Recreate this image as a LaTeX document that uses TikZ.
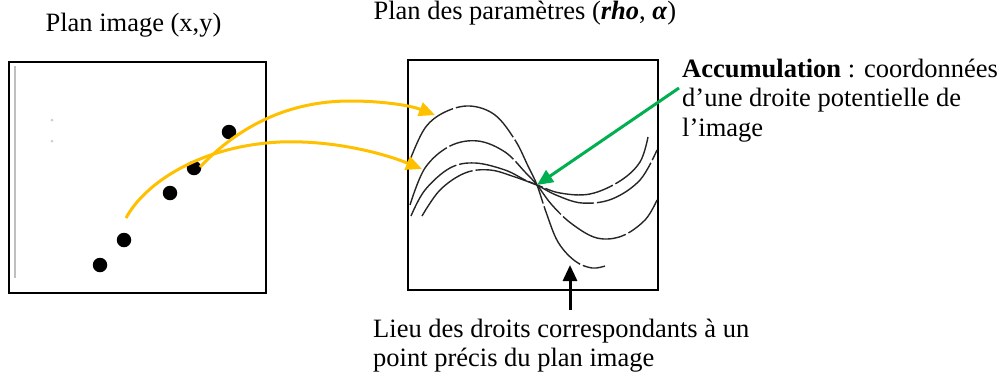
\documentclass[tikz,border=0pt]{standalone}
\usepackage{fontspec}
\setmainfont{Liberation Serif}
\usetikzlibrary{arrows.meta,positioning}
\definecolor{gold}{HTML}{FFC000}
\definecolor{vert}{HTML}{00B050}

\begin{document}
\begin{tikzpicture}[x=1pt,y=-1pt,>={Triangle[length=16pt,width=14pt]},
  every node/.style={font=\fontsize{26.5}{29.5}\selectfont},
  lien/.style={gold,line width=3pt,->},
  pt/.style={circle,fill=black,inner sep=0pt,minimum size=14.5pt},
  cadre/.style={draw,inner sep=0pt},
  courbe/.style={black!85,line width=1.4pt,dash pattern=on 70pt off 3pt}]
  \useasboundingbox (0,0) rectangle (1003,378);
  % les deux plans
  \node[cadre,line width=1.5pt,minimum width=257pt,minimum height=231pt] (imgbox) at (137.5,177.5) {};
  \node[cadre,line width=2.5pt,minimum width=250pt,minimum height=230pt] (parbox) at (533,175) {};
  \node[anchor=base west] (titreimg) at (42,31) {Plan image (x,y)};
  \node[anchor=base west] (titrepar) at (370,19) {Plan des paramètres (\textbf{\textit{rho}}, \textbf{\textit{α}})};
  \draw[gray!50,line width=1.2pt] (15,66) -- (15,278);
  \fill[gray!40] (52,120) circle (1.5) (52,141) circle (1.5);
  % points de l'image
  \node[pt] (p1) at (100,265) {};
  \node[pt] (p2) at (124,240) {};
  \node[pt] (p3) at (170,193) {};
  \node[pt] (p4) at (194,168) {};
  \node[pt] (p5) at (229,132) {};
  % sinusoides
  \draw[courbe] plot[smooth,tension=.6] coordinates {(410,160) (425,128) (445,112) (470,106) (495,115) (515,140) (528,166) (537,185) (546,212) (558,242) (575,261) (592,268) (605,266)};
  \draw[courbe] plot[smooth,tension=.6] coordinates {(410,205) (425,168) (450,146) (478,141) (505,152) (525,172) (537,185) (552,205) (572,224) (597,238) (622,236) (645,220) (657,200)};
  \draw[courbe] plot[smooth,tension=.6] coordinates {(411,216) (425,190) (450,168) (475,163) (505,170) (525,180) (537,185) (556,195) (582,203) (612,199) (640,180) (657,150)};
  \draw[courbe] plot[smooth,tension=.6] coordinates {(422,216) (440,190) (465,173) (490,170) (515,177) (537,185) (560,193) (590,194) (620,181) (640,162) (648,137)};
  \coordinate (cross) at (537,185);
  \coordinate (haut) at (435,115);
  \coordinate (bas) at (422,169);
  \coordinate (dep1) at (126,218);
  \coordinate (dep2) at (200,167);
  % correspondances
  \draw[lien] (dep1) .. controls (145,183) and (200,146) .. (280,142) .. controls (330,140) and (380,152) .. (bas);
  \draw[lien] (dep2) .. controls (240,125) and (290,101) .. (350,101) .. controls (385,101) and (412,106) .. (haut);
  % legendes
  \node[anchor=north west,align=left,inner sep=0pt] (accum) at (682,58.5)
    {\textbf{Accumulation} : coordonnées\\d’une droite potentielle de\\l’image};
  \node[anchor=north west,align=left,inner sep=0pt] (lieu) at (373,318.5)
    {Lieu des droits correspondants à un\\point précis du plan image};
  \coordinate (gdep) at (679,88);
  \coordinate (nfin) at (570,265);
  \draw[vert,line width=3pt,->] (gdep) -- (cross);
  \draw[line width=3pt,->] ([yshift=8.5pt]lieu.north -| nfin) -- (nfin);
\end{tikzpicture}
\end{document}
